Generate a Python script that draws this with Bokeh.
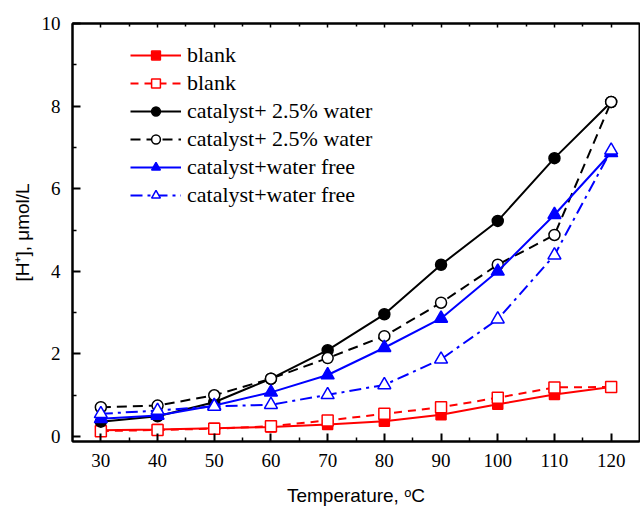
from bokeh.plotting import figure
from bokeh.models import (Range1d, FixedTicker, LinearAxis, Legend, LegendItem)
from bokeh.embed import file_html
from bokeh.resources import INLINE

temperature = [30, 40, 50, 60, 70, 80, 90, 100, 110, 120]
blank_solid = [0.15, 0.17, 0.20, 0.23, 0.29, 0.37, 0.53, 0.78, 1.02, 1.20]
blank_dashed = [0.13, 0.16, 0.19, 0.25, 0.39, 0.55, 0.71, 0.94, 1.19, 1.20]
cat25_solid = [0.36, 0.49, 0.83, 1.40, 2.09, 2.96, 4.16, 5.22, 6.74, 8.10]
cat25_dashed = [0.71, 0.75, 1.00, 1.40, 1.90, 2.43, 3.24, 4.16, 4.88, 8.10]
free_solid = [0.43, 0.51, 0.75, 1.07, 1.49, 2.15, 2.86, 4.00, 5.37, 6.87]
free_dashdot = [0.55, 0.63, 0.73, 0.77, 1.01, 1.25, 1.87, 2.84, 4.39, 6.93]

labels = ["blank", "blank", "catalyst+ 2.5% water", "catalyst+ 2.5% water",
          "catalyst+water free", "catalyst+water free"]
x_ticks = [30, 40, 50, 60, 70, 80, 90, 100, 110, 120]
x_minor = [35, 45, 55, 65, 75, 85, 95, 105, 115]
y_ticks = [0, 2, 4, 6, 8, 10]
y_minor = [1, 3, 5, 7, 9]

p = figure(width=640, height=511, output_backend="svg", toolbar_location=None,
           x_range=Range1d(25, 125), y_range=Range1d(-0.12, 10.0),
           x_axis_location=None, y_axis_location=None,
           min_border_left=72, min_border_right=1, min_border_top=23,
           min_border_bottom=70)
p.grid.visible = False
p.outline_line_color = "black"
p.outline_line_width = 2
p.background_fill_color = "white"
p.border_fill_color = "white"

tick_font = "'Liberation Serif', 'Times New Roman', serif"
title_font = "'Liberation Sans', Arial, sans-serif"

xaxis = LinearAxis(ticker=FixedTicker(ticks=x_ticks, minor_ticks=x_minor),
                   axis_label="Temperature, \u1d52C")
yaxis = LinearAxis(ticker=FixedTicker(ticks=y_ticks, minor_ticks=y_minor),
                   axis_label="[H\u207a], \u03bcmol/L")
for ax in (xaxis, yaxis):
    ax.major_tick_in = 8
    ax.major_tick_out = 0
    ax.minor_tick_in = 4
    ax.minor_tick_out = 0
    ax.axis_line_width = 2
    ax.major_tick_line_width = 2
    ax.minor_tick_line_width = 1.5
    ax.major_label_text_font = tick_font
    ax.major_label_text_font_size = "19px"
    ax.major_label_text_color = "black"
    ax.axis_label_text_font = title_font
    ax.axis_label_text_font_size = "19px"
    ax.axis_label_text_font_style = "normal"
    ax.axis_label_text_color = "black"
xaxis.major_label_standoff = 12
xaxis.axis_label_standoff = 15
yaxis.major_label_standoff = 12
yaxis.axis_label_standoff = 6
p.add_layout(xaxis, "below")
p.add_layout(yaxis, "left")

topaxis = LinearAxis(ticker=FixedTicker(ticks=x_ticks, minor_ticks=x_minor),
                     major_label_overrides={t: "" for t in x_ticks},
                     axis_line_width=2,
                     major_tick_in=4, major_tick_out=0, minor_tick_in=3, minor_tick_out=0,
                     major_tick_line_width=1.5, minor_tick_line_width=1.5)
p.add_layout(topaxis, "above")

series = [
    (blank_solid, "red", "solid", "square", "red", 10),
    (blank_dashed, "red", "8 6", "square", "white", 11),
    (cat25_solid, "black", "solid", "circle", "black", 11),
    (cat25_dashed, "black", "10 6", "circle", "white", 11),
    (free_solid, "blue", "solid", "triangle", "blue", 13),
    (free_dashdot, "blue", "12 5 3 5", "triangle", "white", 13),
]

items = []
for (vals, color, dash, marker, fill, size), lab in zip(series, labels):
    l = p.line(temperature, vals, line_color=color, line_width=2, line_dash=dash)
    s = p.scatter(temperature, vals, marker=marker, size=size, line_color=color,
                  fill_color=fill, line_width=1.5)
    items.append(LegendItem(label=lab, renderers=[l, s]))

legend = Legend(items=items, location=(58, 233), padding=0, margin=0,
                border_line_alpha=0, background_fill_alpha=0,
                glyph_width=51, glyph_height=22, label_height=22, spacing=2,
                label_standoff=6, label_text_font=tick_font,
                label_text_font_size="22px", label_text_color="black")
p.add_layout(legend, "center")

open("out.html", "w").write(file_html(p, INLINE))
